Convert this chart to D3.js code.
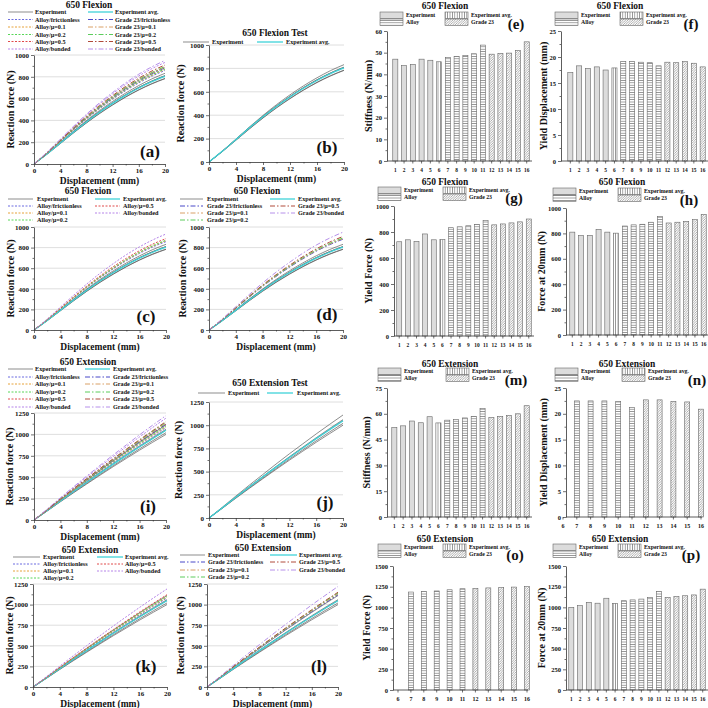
<!DOCTYPE html>
<html>
<head>
<meta charset="utf-8">
<script src="https://cdn.jsdelivr.net/npm/d3@7"></script>
<style>
  body { margin: 0; background: #fff; }
  svg { display: block; }
  text { font-family: "Liberation Serif", "DejaVu Serif", serif; font-weight: bold; fill: #111; }
</style>
</head>
<body>
<svg id="fig" width="708" height="708"></svg>
<script>

// Displacement grid (mm) shared by every force curve
var displacement = [0, 2, 4, 6, 8, 10, 12, 14, 16, 18, 20];

// 650 Flexion: reaction force (N)
var flexionExperiment = [
	[0, 93, 193, 293, 389, 478, 560, 635, 702, 761, 810],
	[0, 90, 186, 283, 376, 462, 541, 614, 679, 735, 783],
	[0, 92, 189, 286, 378, 465, 544, 616, 681, 738, 785],
	[0, 94, 196, 300, 398, 490, 574, 651, 720, 781, 832],
	[0, 95, 195, 296, 391, 480, 561, 636, 703, 761, 810]
];
var flexionAvg = [0, 93, 192, 292, 386, 475, 556, 630, 697, 755, 804];
var flexionAlloy = [
	[0, 99, 204, 311, 412, 506, 593, 673, 744, 806, 858],
	[0, 100, 206, 314, 416, 512, 599, 680, 752, 814, 867],
	[0, 100, 208, 316, 419, 514, 603, 684, 756, 819, 872],
	[0, 102, 211, 321, 426, 524, 614, 696, 770, 834, 888],
	[0, 107, 222, 337, 447, 550, 644, 731, 808, 875, 932]
];
var flexionGrade23 = [
	[0, 101, 210, 319, 423, 520, 609, 691, 765, 828, 882],
	[0, 103, 212, 322, 427, 525, 615, 697, 771, 834, 888],
	[0, 103, 213, 324, 430, 528, 618, 702, 776, 840, 895],
	[0, 104, 216, 329, 436, 536, 627, 712, 787, 853, 908],
	[0, 109, 226, 344, 456, 561, 656, 745, 824, 892, 950]
];

// 650 Extension: reaction force (N)
var extensionExperiment = [
	[0, 105, 213, 318, 421, 523, 623, 720, 816, 909, 1000],
	[0, 107, 217, 324, 429, 533, 635, 734, 832, 927, 1020],
	[0, 111, 226, 337, 446, 554, 660, 763, 865, 964, 1060],
	[0, 110, 224, 334, 442, 549, 654, 756, 857, 954, 1050],
	[0, 117, 236, 353, 467, 581, 692, 799, 906, 1009, 1110]
];
var extensionAvg = [0, 110, 223, 333, 441, 548, 653, 755, 855, 952, 1048];
var extensionAlloy = [
	[0, 113, 230, 343, 455, 565, 673, 778, 881, 982, 1080],
	[0, 114, 232, 347, 459, 570, 679, 785, 889, 991, 1090],
	[0, 116, 234, 350, 463, 575, 685, 792, 898, 1000, 1100],
	[0, 118, 239, 356, 472, 586, 698, 806, 914, 1018, 1120],
	[0, 125, 253, 378, 501, 622, 741, 857, 971, 1082, 1190]
];
var extensionGrade23 = [
	[0, 118, 239, 357, 472, 586, 698, 807, 914, 1018, 1120],
	[0, 119, 241, 359, 476, 591, 704, 814, 922, 1027, 1130],
	[0, 120, 243, 363, 480, 596, 710, 821, 930, 1036, 1140],
	[0, 121, 245, 366, 484, 601, 716, 828, 938, 1045, 1150],
	[0, 128, 260, 388, 514, 638, 760, 878, 996, 1109, 1220]
];

var modelNames = ['frictionless', 'μ=0.1', 'μ=0.2', 'μ=0.5', 'bonded'];

// Bar charts: specimen / model number
var specimens = [1, 2, 3, 4, 5, 6, 7, 8, 9, 10, 11, 12, 13, 14, 15, 16];
var modelsOnly = [7, 8, 9, 10, 11, 12, 13, 14, 15, 16];

var flexStiffness = [47, 44, 44.6, 47, 46.5, 45.8, 47.8, 48.3, 48.7, 49.5, 53.5, 49.3, 49.7, 49.8, 51, 55];
var flexYieldDisp = [17, 18.3, 17.8, 18.1, 17.5, 17.9, 19.1, 19.1, 19, 18.9, 18.3, 19, 18.9, 19.1, 18.8, 18.1];
var flexYieldForce = [725, 740, 728, 785, 740, 742, 833, 840, 848, 858, 890, 855, 862, 870, 878, 900];
var flexForce20 = [810, 783, 785, 832, 810, 802, 858, 867, 872, 888, 932, 882, 888, 895, 908, 950];
var extStiffness = [52, 53, 55.8, 54.8, 58.3, 54.7, 56.3, 56.8, 57.6, 58.5, 63, 57.8, 58.5, 59, 60, 64.7];
var extYieldDisp = [22.5, 22.5, 22.5, 22.4, 21.2, 22.7, 22.7, 22.4, 22.3, 20.9];
var extYieldForce = [1185, 1192, 1198, 1212, 1225, 1228, 1235, 1238, 1245, 1250];
var extForce20 = [1000, 1020, 1060, 1050, 1110, 1048, 1080, 1090, 1100, 1120, 1190, 1120, 1130, 1140, 1150, 1220];

// ---------------------------------------------------------------

var svg = d3.select('#fig');
var defs = svg.append('defs');
var serif = '"Liberation Serif", "DejaVu Serif", serif';
var fmt = d3.format('d');

// Hatch patterns for the bars:
function pattern( id, draw ) {
	var p = defs.append('pattern')
		.attr('id', id)
		.attr('patternUnits', 'userSpaceOnUse')
		.attr('width', 2.4)
		.attr('height', 2.4);
	p.append('rect').attr('width', 2.4).attr('height', 2.4).attr('fill', '#fff');
	draw(p);
}
pattern('hz', function(p) {
	p.append('line').attr('x1', 0).attr('x2', 2.4).attr('y1', 1.2).attr('y2', 1.2)
		.attr('stroke', '#777').attr('stroke-width', 0.7);
});
pattern('vt', function(p) {
	p.append('line').attr('y1', 0).attr('y2', 2.4).attr('x1', 1.2).attr('x2', 1.2)
		.attr('stroke', '#777').attr('stroke-width', 0.7);
});
pattern('dg', function(p) {
	p.append('path').attr('d', 'M-0.6,0.6 L0.6,-0.6 M0,2.4 L2.4,0 M1.8,3 L3,1.8')
		.attr('stroke', '#777').attr('stroke-width', 0.6);
});

var barFill = { exp: '#dcdcdc', avg: 'url(#vt)', alloy: 'url(#hz)', g23: 'url(#dg)' };
function barKind( n ) {
	if (n <= 5) return 'exp';
	if (n === 6) return 'avg';
	if (n <= 11) return 'alloy';
	return 'g23';
}

// Line styles:
var expStyle = { color: '#5c5c5c', w: 0.7, dash: null };
var avgStyle = { color: '#3fd3d8', w: 1.3, dash: null };
var alloyColors = ['#6b6be0', '#e6a23a', '#58d658', '#e04a4a', '#b583e8'];
var g23Colors = ['#4848c8', '#d9a066', '#5ccc5c', '#b04a3a', '#b690ea'];
function alloyStyle( i ) { return { color: alloyColors[i], w: 1, dash: '2,1.5' }; }
function g23Style( i ) { return { color: g23Colors[i], w: 1, dash: '5,2,1.5,2' }; }

function styleAxis( sel, fs ) {
	sel.attr('font-size', fs).attr('font-family', null);
	sel.selectAll('text').attr('font-family', serif).attr('font-weight', 'bold').attr('fill', '#111');
	sel.select('.domain').attr('stroke', '#333').attr('stroke-width', 0.8);
	sel.selectAll('.tick line').attr('stroke', '#333').attr('stroke-width', 0.7);
}

function text( g, x, y, s, size, anchor, weight ) {
	return g.append('text')
		.attr('x', x).attr('y', y)
		.attr('font-size', size)
		.attr('text-anchor', anchor || 'middle')
		.attr('font-weight', weight || 'bold')
		.text(s);
}

// Force-displacement panel:
function linePanel( c ) {
	var g = svg.append('g');
	var x = d3.scaleLinear().domain([0, 20]).range([c.l, c.r]);
	var y = d3.scaleLinear().domain([0, c.ymax]).range([c.b, c.t]);
	var major = d3.range(0, c.ymax + 1, c.ystep);

	g.selectAll('line.grid').data(major.slice(1)).join('line')
		.attr('class', 'grid')
		.attr('x1', c.l).attr('x2', c.r)
		.attr('y1', function(d) { return y(d); }).attr('y2', function(d) { return y(d); })
		.attr('stroke', '#d6d6d6').attr('stroke-width', 0.8);

	var line = d3.line()
		.x(function(d, i) { return x(displacement[i]); })
		.y(function(d) { return y(d); })
		.curve(d3.curveMonotoneX);

	c.series.forEach(function(s) {
		g.append('path').datum(s.v)
			.attr('d', line)
			.attr('fill', 'none')
			.attr('stroke', s.st.color)
			.attr('stroke-width', s.st.w)
			.attr('stroke-dasharray', s.st.dash);
	});

	var ya = g.append('g').attr('transform', 'translate(' + c.l + ',0)')
		.call(d3.axisLeft(y).tickValues(major).tickFormat(fmt).tickSize(3).tickSizeOuter(0).tickPadding(2));
	styleAxis(ya, 7);
	var ym = g.append('g').attr('transform', 'translate(' + c.l + ',0)')
		.call(d3.axisLeft(y).tickValues(d3.range(c.ystep / 2, c.ymax, c.ystep)).tickSize(1.5).tickFormat(''));
	styleAxis(ym, 7);
	ym.select('.domain').remove();

	var xa = g.append('g').attr('transform', 'translate(0,' + c.b + ')')
		.call(d3.axisBottom(x).tickValues([0, 4, 8, 12, 16, 20]).tickSize(3).tickSizeOuter(0).tickPadding(1));
	styleAxis(xa, 7);
	var xm = g.append('g').attr('transform', 'translate(0,' + c.b + ')')
		.call(d3.axisBottom(x).tickValues([2, 6, 10, 14, 18]).tickSize(1.5).tickFormat(''));
	styleAxis(xm, 7);
	xm.select('.domain').remove();

	text(g, (c.l + c.r) / 2, c.b + 20, 'Displacement (mm)', 9.5);
	text(g, 0, 0, 'Reaction force (N)', 10, 'middle', c.ybold ? 'bold' : 'normal')
		.attr('transform', 'translate(' + c.ytx + ',' + ((c.t + c.b) / 2) + ') rotate(-90)')
		.attr('dy', '0.35em');

	text(g, c.title[1], c.title[2], c.title[0], 9.5);

	c.legend.forEach(function(e) {
		g.append('line')
			.attr('x1', e[1]).attr('x2', e[2]).attr('y1', e[0]).attr('y2', e[0])
			.attr('stroke', e[4].color)
			.attr('stroke-width', e[4].w)
			.attr('stroke-dasharray', e[4].dash);
		text(g, e[3], e[0], e[5], 6.2, 'start').attr('dy', '0.35em');
	});

	text(g, c.label[1], c.label[2], c.label[0], 17);
}

// Bar panel:
function barPanel( c ) {
	var g = svg.append('g');
	var y = d3.scaleLinear().domain([0, c.ymax]).range([c.b, c.t]);
	var pos, bw, ticks;

	if (c.linear) {
		var xl = d3.scaleLinear().domain([6, 16]).range(c.xr);
		pos = function(d) { return xl(d); };
		bw = 5;
		ticks = d3.range(6, 17);
	} else {
		var xb = d3.scaleBand().domain(c.cats).range(c.xr).paddingInner(0.42).paddingOuter(0.2);
		pos = function(d) { return xb(d) + xb.bandwidth() / 2; };
		bw = xb.bandwidth();
		ticks = c.cats;
	}

	g.selectAll('rect.bar').data(c.cats).join('rect')
		.attr('class', 'bar')
		.attr('x', function(d) { return pos(d) - bw / 2; })
		.attr('width', bw)
		.attr('y', function(d, i) { return y(c.values[i]); })
		.attr('height', function(d, i) { return c.b - y(c.values[i]); })
		.attr('fill', function(d) { return barFill[barKind(d)]; })
		.attr('stroke', '#666')
		.attr('stroke-width', 0.6);

	var major = d3.range(0, c.ymax + 0.001, c.ystep);
	var ya = g.append('g').attr('transform', 'translate(' + c.ax + ',0)')
		.call(d3.axisLeft(y).tickValues(major).tickFormat(fmt).tickSize(3).tickSizeOuter(0).tickPadding(2));
	styleAxis(ya, 6.5);
	var ym = g.append('g').attr('transform', 'translate(' + c.ax + ',0)')
		.call(d3.axisLeft(y).tickValues(d3.range(c.ystep / 2, c.ymax, c.ystep)).tickSize(1.5).tickFormat(''));
	styleAxis(ym, 6.5);
	ym.select('.domain').remove();

	// x axis line and category ticks
	g.append('line')
		.attr('x1', c.ax).attr('x2', c.xr[1] + 1).attr('y1', c.b).attr('y2', c.b)
		.attr('stroke', '#333').attr('stroke-width', 0.8);
	g.selectAll('line.xt').data(ticks).join('line')
		.attr('class', 'xt')
		.attr('x1', pos).attr('x2', pos)
		.attr('y1', c.b).attr('y2', c.b + 2.5)
		.attr('stroke', '#333').attr('stroke-width', 0.7);
	g.selectAll('text.xl').data(ticks).join('text')
		.attr('class', 'xl')
		.attr('x', pos).attr('y', c.b + 10.5)
		.attr('font-size', c.linear ? 6 : 5.4)
		.attr('text-anchor', 'middle')
		.text(function(d) { return d; });

	text(g, 0, 0, c.ytitle[0], 10)
		.attr('transform', 'translate(' + c.ytitle[1] + ',' + ((c.t + c.b) / 2) + ') rotate(-90)')
		.attr('dy', '0.35em');

	text(g, c.title[1], c.title[2], c.title[0], 9.5);

	// legend 2 x 2
	var L = c.leg, sw = 23, sh = 6.5;
	var items = [
		[L[0], L[2], 'exp', 'Experiment'],
		[L[1], L[2], 'avg', 'Experiment avg.'],
		[L[0], L[2] + 7, 'alloy', 'Alloy'],
		[L[1], L[2] + 7, 'g23', 'Grade 23']
	];
	items.forEach(function(it) {
		g.append('rect')
			.attr('x', it[0]).attr('y', it[1])
			.attr('width', sw).attr('height', sh)
			.attr('fill', barFill[it[2]])
			.attr('stroke', '#666').attr('stroke-width', 0.6);
		text(g, it[0] + sw + 3, it[1] + sh / 2, it[3], 5.8, 'start').attr('dy', '0.35em');
	});

	text(g, c.label[1], c.label[2], c.label[0], 15);
}

// Series lists:
function seriesFor( exp, avg, alloy, g23 ) {
	var out = [];
	exp.forEach(function(v) { out.push({ v: v, st: expStyle }); });
	out.push({ v: avg, st: avgStyle });
	if (alloy) alloy.forEach(function(v, i) { out.push({ v: v, st: alloyStyle(i) }); });
	if (g23) g23.forEach(function(v, i) { out.push({ v: v, st: g23Style(i) }); });
	return out;
}

function fullLegend( rows, cols ) {
	var out = [
		[rows[0], cols[0][0], cols[0][1], cols[0][2], expStyle, 'Experiment'],
		[rows[0], cols[1][0], cols[1][1], cols[1][2], avgStyle, 'Experiment avg.']
	];
	modelNames.forEach(function(n, i) {
		out.push([rows[i + 1], cols[0][0], cols[0][1], cols[0][2], alloyStyle(i), 'Alloy/' + n]);
		out.push([rows[i + 1], cols[1][0], cols[1][1], cols[1][2], g23Style(i), 'Grade 23/' + n]);
	});
	return out;
}

function modelLegend( rows, cols, prefix, styleFn ) {
	var out = [
		[rows[0], cols[0][0], cols[0][1], cols[0][2], expStyle, 'Experiment'],
		[rows[0], cols[1][0], cols[1][1], cols[1][2], avgStyle, 'Experiment avg.']
	];
	[0, 1, 2].forEach(function(i) {
		out.push([rows[i + 1], cols[0][0], cols[0][1], cols[0][2], styleFn(i), prefix + modelNames[i]]);
	});
	[3, 4].forEach(function(i) {
		out.push([rows[i - 2], cols[1][0], cols[1][1], cols[1][2], styleFn(i), prefix + modelNames[i]]);
	});
	return out;
}

function testLegend( yy, a, b ) {
	return [
		[yy, a[0], a[1], a[2], expStyle, 'Experiment'],
		[yy, b[0], b[1], b[2], avgStyle, 'Experiment avg.']
	];
}

// (a)
linePanel({ l: 34, r: 165, t: 55, b: 164, ymax: 1000, ystep: 200, ytx: 10, ybold: true,
	title: ['650 Flexion', 89, 7.5], label: ['(a)', 150, 157],
	series: seriesFor(flexionExperiment, flexionAvg, flexionAlloy, flexionGrade23),
	legend: fullLegend([12, 19.5, 27, 34.5, 41.5, 49], [[8, 33, 35], [88, 113, 115]]) });
// (b)
linePanel({ l: 209, r: 344, t: 45, b: 162, ymax: 1000, ystep: 200, ytx: 180, ybold: false,
	title: ['650 Flexion Test', 275, 36], label: ['(b)', 327, 153],
	series: seriesFor(flexionExperiment, flexionAvg),
	legend: testLegend(42, [183, 209, 212], [257, 283, 286]) });
// (c)
linePanel({ l: 34, r: 166, t: 227, b: 330, ymax: 1000, ystep: 200, ytx: 10, ybold: true,
	title: ['650 Flexion', 88, 193.5], label: ['(c)', 146, 322],
	series: seriesFor(flexionExperiment, flexionAvg, flexionAlloy),
	legend: modelLegend([199, 206, 213, 220], [[8, 33, 37], [95, 120, 123]], 'Alloy/', alloyStyle) });
// (d)
linePanel({ l: 209, r: 343, t: 227, b: 330, ymax: 1000, ystep: 200, ytx: 182, ybold: false,
	title: ['650 Flexion', 257, 193.5], label: ['(d)', 327, 320],
	series: seriesFor(flexionExperiment, flexionAvg, null, flexionGrade23),
	legend: modelLegend([199, 206, 213, 220], [[180, 203, 207], [270, 295, 298]], 'Grade 23/', g23Style) });
// (i)
linePanel({ l: 34, r: 166, t: 413, b: 520, ymax: 1250, ystep: 250, ytx: 9, ybold: true,
	title: ['650 Extension', 88, 364.5], label: ['(i)', 148, 512],
	series: seriesFor(extensionExperiment, extensionAvg, extensionAlloy, extensionGrade23),
	legend: fullLegend([369, 377, 384, 392, 399, 407], [[8, 33, 35], [85, 110, 113]]) });
// (j)
linePanel({ l: 209, r: 343, t: 402, b: 518, ymax: 1250, ystep: 250, ytx: 178, ybold: false,
	title: ['650 Extension Test', 270, 385.5], label: ['(j)', 325, 508],
	series: seriesFor(extensionExperiment, extensionAvg),
	legend: testLegend(393, [198, 225, 228], [267, 293, 297]) });
// (k)
linePanel({ l: 33, r: 167, t: 584, b: 687, ymax: 1250, ystep: 250, ytx: 9, ybold: true,
	title: ['650 Extension', 90, 552.5], label: ['(k)', 146, 672],
	series: seriesFor(extensionExperiment, extensionAvg, extensionAlloy),
	legend: modelLegend([557, 564, 571, 578], [[13, 40, 43], [97, 123, 125]], 'Alloy/', alloyStyle) });
// (l)
linePanel({ l: 207, r: 338, t: 584, b: 687, ymax: 1250, ystep: 250, ytx: 180, ybold: false,
	title: ['650 Extension', 263, 550.5], label: ['(l)', 319, 672],
	series: seriesFor(extensionExperiment, extensionAvg, null, extensionGrade23),
	legend: modelLegend([555, 562, 570, 577], [[180, 205, 208], [270, 297, 299]], 'Grade 23/', g23Style) });

// (e) - (p)
barPanel({ ax: 387, xr: [391, 531], t: 31, b: 161, ymax: 60, ystep: 10, cats: specimens, values: flexStiffness,
	title: ['650 Flexion', 445, 8.5], leg: [380, 445, 12], label: ['(e)', 516, 29], ytitle: ['Stiffness (N/mm)', 368] });
barPanel({ ax: 561, xr: [566, 707], t: 31, b: 161, ymax: 25, ystep: 5, cats: specimens, values: flexYieldDisp,
	title: ['650 Flexion', 620, 8.5], leg: [555, 620, 12], label: ['(f)', 691, 29], ytitle: ['Yield Displacement (mm)', 543] });
barPanel({ ax: 394, xr: [395, 533], t: 206, b: 336, ymax: 1000, ystep: 200, cats: specimens, values: flexYieldForce,
	title: ['650 Flexion', 445, 184.5], leg: [378, 443, 187], label: ['(g)', 514, 203], ytitle: ['Yield Force (N)', 368] });
barPanel({ ax: 566, xr: [568, 708], t: 208, b: 335, ymax: 1000, ystep: 200, cats: specimens, values: flexForce20,
	title: ['650 Flexion', 622, 184.5], leg: [553, 618, 188], label: ['(h)', 689, 205], ytitle: ['Force at 20mm (N)', 541] });
barPanel({ ax: 387, xr: [390, 531], t: 388, b: 517, ymax: 75, ystep: 15, cats: specimens, values: extStiffness,
	title: ['650 Extension', 450, 366.5], leg: [378, 446, 368], label: ['(m)', 516, 385], ytitle: ['Stiffness (N/mm)', 366] });
barPanel({ ax: 566, xr: [563, 701], linear: true, t: 388, b: 517, ymax: 25, ystep: 5, cats: modelsOnly, values: extYieldDisp,
	title: ['650 Extension', 627, 366.5], leg: [555, 622, 368], label: ['(n)', 697, 385], ytitle: ['Yield Displacement (mm)', 543] });
barPanel({ ax: 393, xr: [398, 527], linear: true, t: 566, b: 690, ymax: 1500, ystep: 250, cats: modelsOnly, values: extYieldForce,
	title: ['650 Extension', 445, 541.5], leg: [378, 443, 544], label: ['(o)', 515, 560], ytitle: ['Yield Force (N)', 366] });
barPanel({ ax: 566, xr: [567, 707], t: 566, b: 690, ymax: 1500, ystep: 250, cats: specimens, values: extForce20,
	title: ['650 Extension', 620, 541.5], leg: [553, 618, 544], label: ['(p)', 691, 560], ytitle: ['Force at 20mm (N)', 541] });

</script>
</body>
</html>
